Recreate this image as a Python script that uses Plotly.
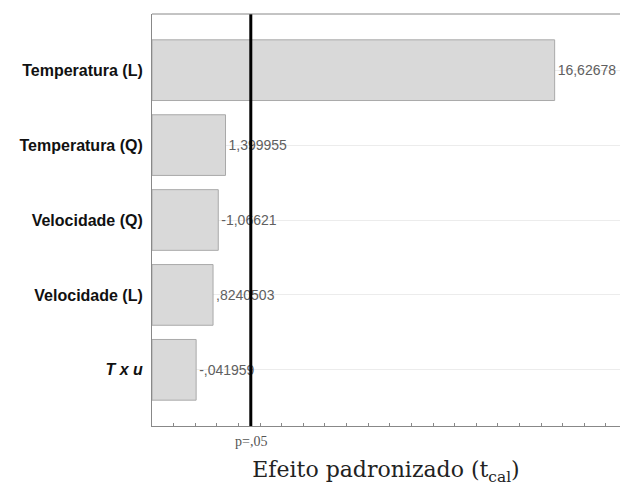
import plotly.graph_objects as go

# Data
factors = ["Temperatura (L)", "Temperatura (Q)", "Velocidade (Q)", "Velocidade (L)", "T x u"]
factor_ticks = ["<b>Temperatura (L)</b>", "<b>Temperatura (Q)</b>", "<b>Velocidade (Q)</b>",
                "<b>Velocidade (L)</b>", "<b><i>T x u</i></b>"]
effects = [16.62678, 1.399955, -1.06621, 0.8240503, -0.041959]
effect_labels = ["16,62678", "1,399955", "-1,06621", ",8240503", "-,041959"]
p_value_t = 2.57
p_label = "p=,05"
x_min, x_max = -2.0, 19.65

abs_eff = [abs(v) for v in effects]

fig = go.Figure()
fig.add_trace(go.Bar(
    y=factors,
    x=[a - x_min for a in abs_eff],
    base=[x_min] * len(abs_eff),
    orientation="h",
    width=0.81,
    marker=dict(color="#d9d9d9", line=dict(color="#a9a9a9", width=1)),
    text=effect_labels,
    textposition="outside",
    textfont=dict(family="Liberation Sans, Arial, sans-serif", size=14, color="#606060"),
    cliponaxis=False,
    hoverinfo="skip",
))

fig.add_shape(type="line", xref="x", yref="paper", x0=p_value_t, x1=p_value_t, y0=0, y1=1,
              line=dict(color="black", width=3))
# top frame line
fig.add_shape(type="line", xref="paper", yref="paper", x0=0, x1=1, y0=1, y1=1,
              line=dict(color="#888888", width=1))
fig.add_annotation(x=p_value_t, xref="x", y=0, yref="paper", yshift=-6, yanchor="top",
                   text=p_label, showarrow=False,
                   font=dict(family="Liberation Serif, Times New Roman, serif", size=14, color="#555555"))

fig.update_layout(
    width=620, height=486,
    margin=dict(l=152, r=0, t=14, b=60),
    plot_bgcolor="white", paper_bgcolor="white",
    showlegend=False,
    xaxis=dict(
        range=[x_min, x_max],
        showgrid=False, zeroline=False,
        showticklabels=False,
        ticks="inside", ticklen=3, dtick=1, tick0=0, tickcolor="#888888",
        showline=True, linecolor="#888888", linewidth=1, mirror=False,
        title=dict(text="Efeito padronizado (t<sub>cal</sub>)", standoff=36,
                   font=dict(family="DejaVu Serif, serif", size=22, color="#222222")),
    ),
    yaxis=dict(
        range=[4.75, -0.75],
        tickmode="array", tickvals=factors, ticktext=factor_ticks,
        tickfont=dict(family="Liberation Sans, Arial, sans-serif", size=16, color="#111111"),
        ticklabelstandoff=5,
        showgrid=True, gridcolor="#ececec", gridwidth=1,
        showline=True, linecolor="#888888", linewidth=1, mirror=False,
        zeroline=False,
    ),
)

fig.write_html("out.html")
